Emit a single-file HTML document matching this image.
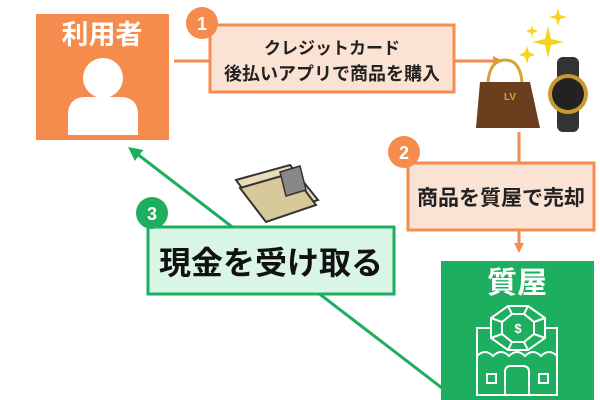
<!DOCTYPE html>
<html><head><meta charset="utf-8"><style>
body{margin:0;background:#fff;}
svg{display:block;}
text{font-family:"Liberation Sans","Noto Sans CJK JP",sans-serif;font-weight:bold;}
</style></head><body>
<svg width="600" height="400" viewBox="0 0 600 400" xmlns="http://www.w3.org/2000/svg">
<defs>
<marker id="ao" markerWidth="10" markerHeight="10" refX="7" refY="5" orient="auto" markerUnits="userSpaceOnUse"><path d="M0,0 L10,5 L0,10z" fill="#f58b4c"/></marker>
<marker id="ag" markerWidth="14" markerHeight="14" refX="9" refY="7" orient="auto" markerUnits="userSpaceOnUse"><path d="M0,0 L14,7 L0,14z" fill="#1eae5f"/></marker>
</defs>
<rect x="36" y="14" width="133" height="126" fill="#f58b4c"/>
<text x="102" y="44" font-size="27" fill="#fff" text-anchor="middle">利用者</text>
<circle cx="103" cy="78" r="20" fill="#fff"/>
<path d="M68,135 L68,115 Q68,97 86,97 L120,97 Q138,97 138,115 L138,135z" fill="#fff"/>
<line x1="174" y1="61" x2="500" y2="61" stroke="#f58b4c" stroke-width="3" marker-end="url(#ao)"/>
<rect x="210" y="25" width="244" height="67" fill="#fbe3d4" stroke="#f58b4c" stroke-width="3"/>
<circle cx="202" cy="23" r="16" fill="#f58b4c"/>
<text x="202" y="30" font-size="18" fill="#fff" text-anchor="middle">1</text>
<text x="332" y="54" font-size="17" fill="#222" text-anchor="middle">クレジットカード</text>
<text x="332" y="80" font-size="18" fill="#222" text-anchor="middle">後払いアプリで商品を購入</text>
<g fill="#f7d21e">
<path d="M548,26 L551,39 L564,42 L551,45 L548,58 L545,45 L532,42 L545,39z"/>
<path d="M558,8 L560,15 L567,17 L560,19 L558,26 L556,19 L549,17 L556,15z"/>
<path d="M532,24 L533,29 L538,31 L533,33 L532,38 L531,33 L526,31 L531,29z"/>
<path d="M527,46 L529,52 L535,55 L529,57 L527,64 L525,57 L519,55 L525,52z"/>
</g>
<path d="M488,82 Q490,60 505,60 Q520,60 522,82" fill="none" stroke="#d4a530" stroke-width="3"/>
<path d="M480,82 L530,82 L540,128 L476,128z" fill="#6b3f1e"/>
<text x="510" y="100" font-size="10" fill="#d4a530" text-anchor="middle">LV</text>
<rect x="557" y="57" width="22" height="75" rx="6" fill="#333"/>
<circle cx="568" cy="94" r="20" fill="#c99a2e"/>
<circle cx="568" cy="94" r="16" fill="#222"/>
<line x1="519" y1="132" x2="519" y2="250" stroke="#f58b4c" stroke-width="3" marker-end="url(#ao)"/>
<rect x="408" y="163" width="186" height="67" fill="#fbe3d4" stroke="#f58b4c" stroke-width="3"/>
<circle cx="404" cy="152" r="16" fill="#f58b4c"/>
<text x="404" y="159" font-size="18" fill="#fff" text-anchor="middle">2</text>
<text x="501" y="205" font-size="21" fill="#222" text-anchor="middle">商品を質屋で売却</text>
<rect x="441" y="261" width="153" height="139" fill="#1eae5f"/>
<text x="517" y="293" font-size="30" fill="#fff" text-anchor="middle">質屋</text>
<g fill="none" stroke="#fff" stroke-width="2">
<path d="M477,328 L557,328 L557,395 L477,395z"/>
<path d="M508,306 L528,306 L545,318 L545,338 L528,350 L508,350 L491,338 L491,318z" fill="#1eae5f"/>
<path d="M512,314 L524,314 L534,322 L534,334 L524,342 L512,342 L502,334 L502,322z"/>
<path d="M508,306 L512,314 M528,306 L524,314 M545,318 L534,322 M545,338 L534,334 M528,350 L524,342 M508,350 L512,342 M491,338 L502,334 M491,318 L502,322"/>
<path d="M477,356 Q485,348 493,356 Q501,348 509,356 Q517,348 525,356 Q533,348 541,356 Q549,348 557,356"/>
<rect x="487" y="374" width="9" height="9"/><rect x="539" y="374" width="9" height="9"/>
<path d="M505,395 L505,372 Q505,366 511,366 L523,366 Q529,366 529,372 L529,395"/>
</g>
<text x="518" y="333" font-size="13" fill="#fff" text-anchor="middle">$</text>
<line x1="442" y1="388" x2="132" y2="150" stroke="#1eae5f" stroke-width="3" marker-end="url(#ag)"/>
<g>
<path d="M236,180 L290,165 L318,200 L264,218z" fill="#e9dcb8" stroke="#333" stroke-width="2"/>
<path d="M240,188 L292,173 L316,205 L266,222z" fill="#d8c99a" stroke="#333" stroke-width="2"/>
<path d="M280,172 L300,166 L306,190 L286,196z" fill="#888" stroke="#333" stroke-width="1.5"/>
</g>
<rect x="148" y="227" width="246" height="67" fill="#d9f5e6" stroke="#1eae5f" stroke-width="3"/>
<circle cx="152" cy="213" r="16" fill="#1eae5f"/>
<text x="152" y="220" font-size="18" fill="#fff" text-anchor="middle">3</text>
<text x="271" y="274" font-size="32" fill="#111" text-anchor="middle">現金を受け取る</text>
</svg>
</body></html>
